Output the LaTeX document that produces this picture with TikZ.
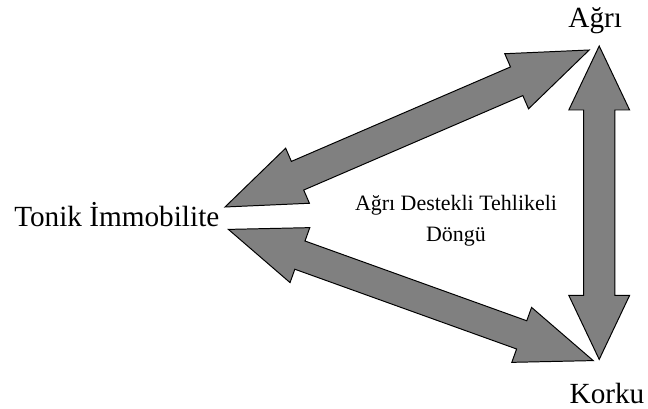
\documentclass[tikz,border=0pt]{standalone}
\usepackage{fontspec}
\setmainfont{Liberation Serif}
\usetikzlibrary{calc}
% two-headed block arrow between tips #1 and #2:
% head length #3, half head width #4, half shaft width #5
\newcommand{\twowayarrow}[5]{%
  \draw[blockarrow] (#1) -- ($(#1)!#3!(#2)!#4!90:(#2)$) -- ($(#1)!#3!(#2)!#5!90:(#2)$)
    -- ($(#2)!#3!(#1)!#5!-90:(#1)$) -- ($(#2)!#3!(#1)!#4!-90:(#1)$) -- (#2)
    -- ($(#2)!#3!(#1)!#4!90:(#1)$) -- ($(#2)!#3!(#1)!#5!90:(#1)$)
    -- ($(#1)!#3!(#2)!#5!-90:(#2)$) -- ($(#1)!#3!(#2)!#4!-90:(#2)$) -- cycle;}

\begin{document}
\begin{tikzpicture}[blockarrow/.style={draw=black,fill=gray,line width=0.7pt,line join=miter},
  termtext/.style={font=\fontsize{20.8}{24}\selectfont,anchor=base,inner sep=0pt},
  loopnote/.style={font=\fontsize{15.6}{22.5}\selectfont,align=center,inner sep=0pt}]
\useasboundingbox (0,0) rectangle (16.2,10.225);
% labels
\node[termtext] (agri) at (14.88,9.54) {Ağrı};
\node[termtext] (korku) at (15.175,0.1425) {Korku};
\node[termtext] (tonik) at (2.92,4.5575) {Tonik İmmobilite};
\node[loopnote,anchor=base] (loop) at (11.4,4.1825) {Ağrı Destekli Tehlikeli\\Döngü};
% arrow tips
\coordinate (tonik up) at (5.625,5.05);
\coordinate (agri left) at (14.73,8.975);
\coordinate (tonik down) at (5.71,4.49);
\coordinate (korku left) at (14.83,1.21);
\coordinate (agri down) at (14.98,9.075);
\coordinate (korku up) at (14.98,1.24);
% arrows
\twowayarrow{tonik up}{agri left}{1.975cm}{0.75cm}{0.39cm}
\twowayarrow{tonik down}{korku left}{1.9cm}{0.73cm}{0.375cm}
\twowayarrow{agri down}{korku up}{1.6cm}{0.76cm}{0.39cm}
\end{tikzpicture}
\end{document}
